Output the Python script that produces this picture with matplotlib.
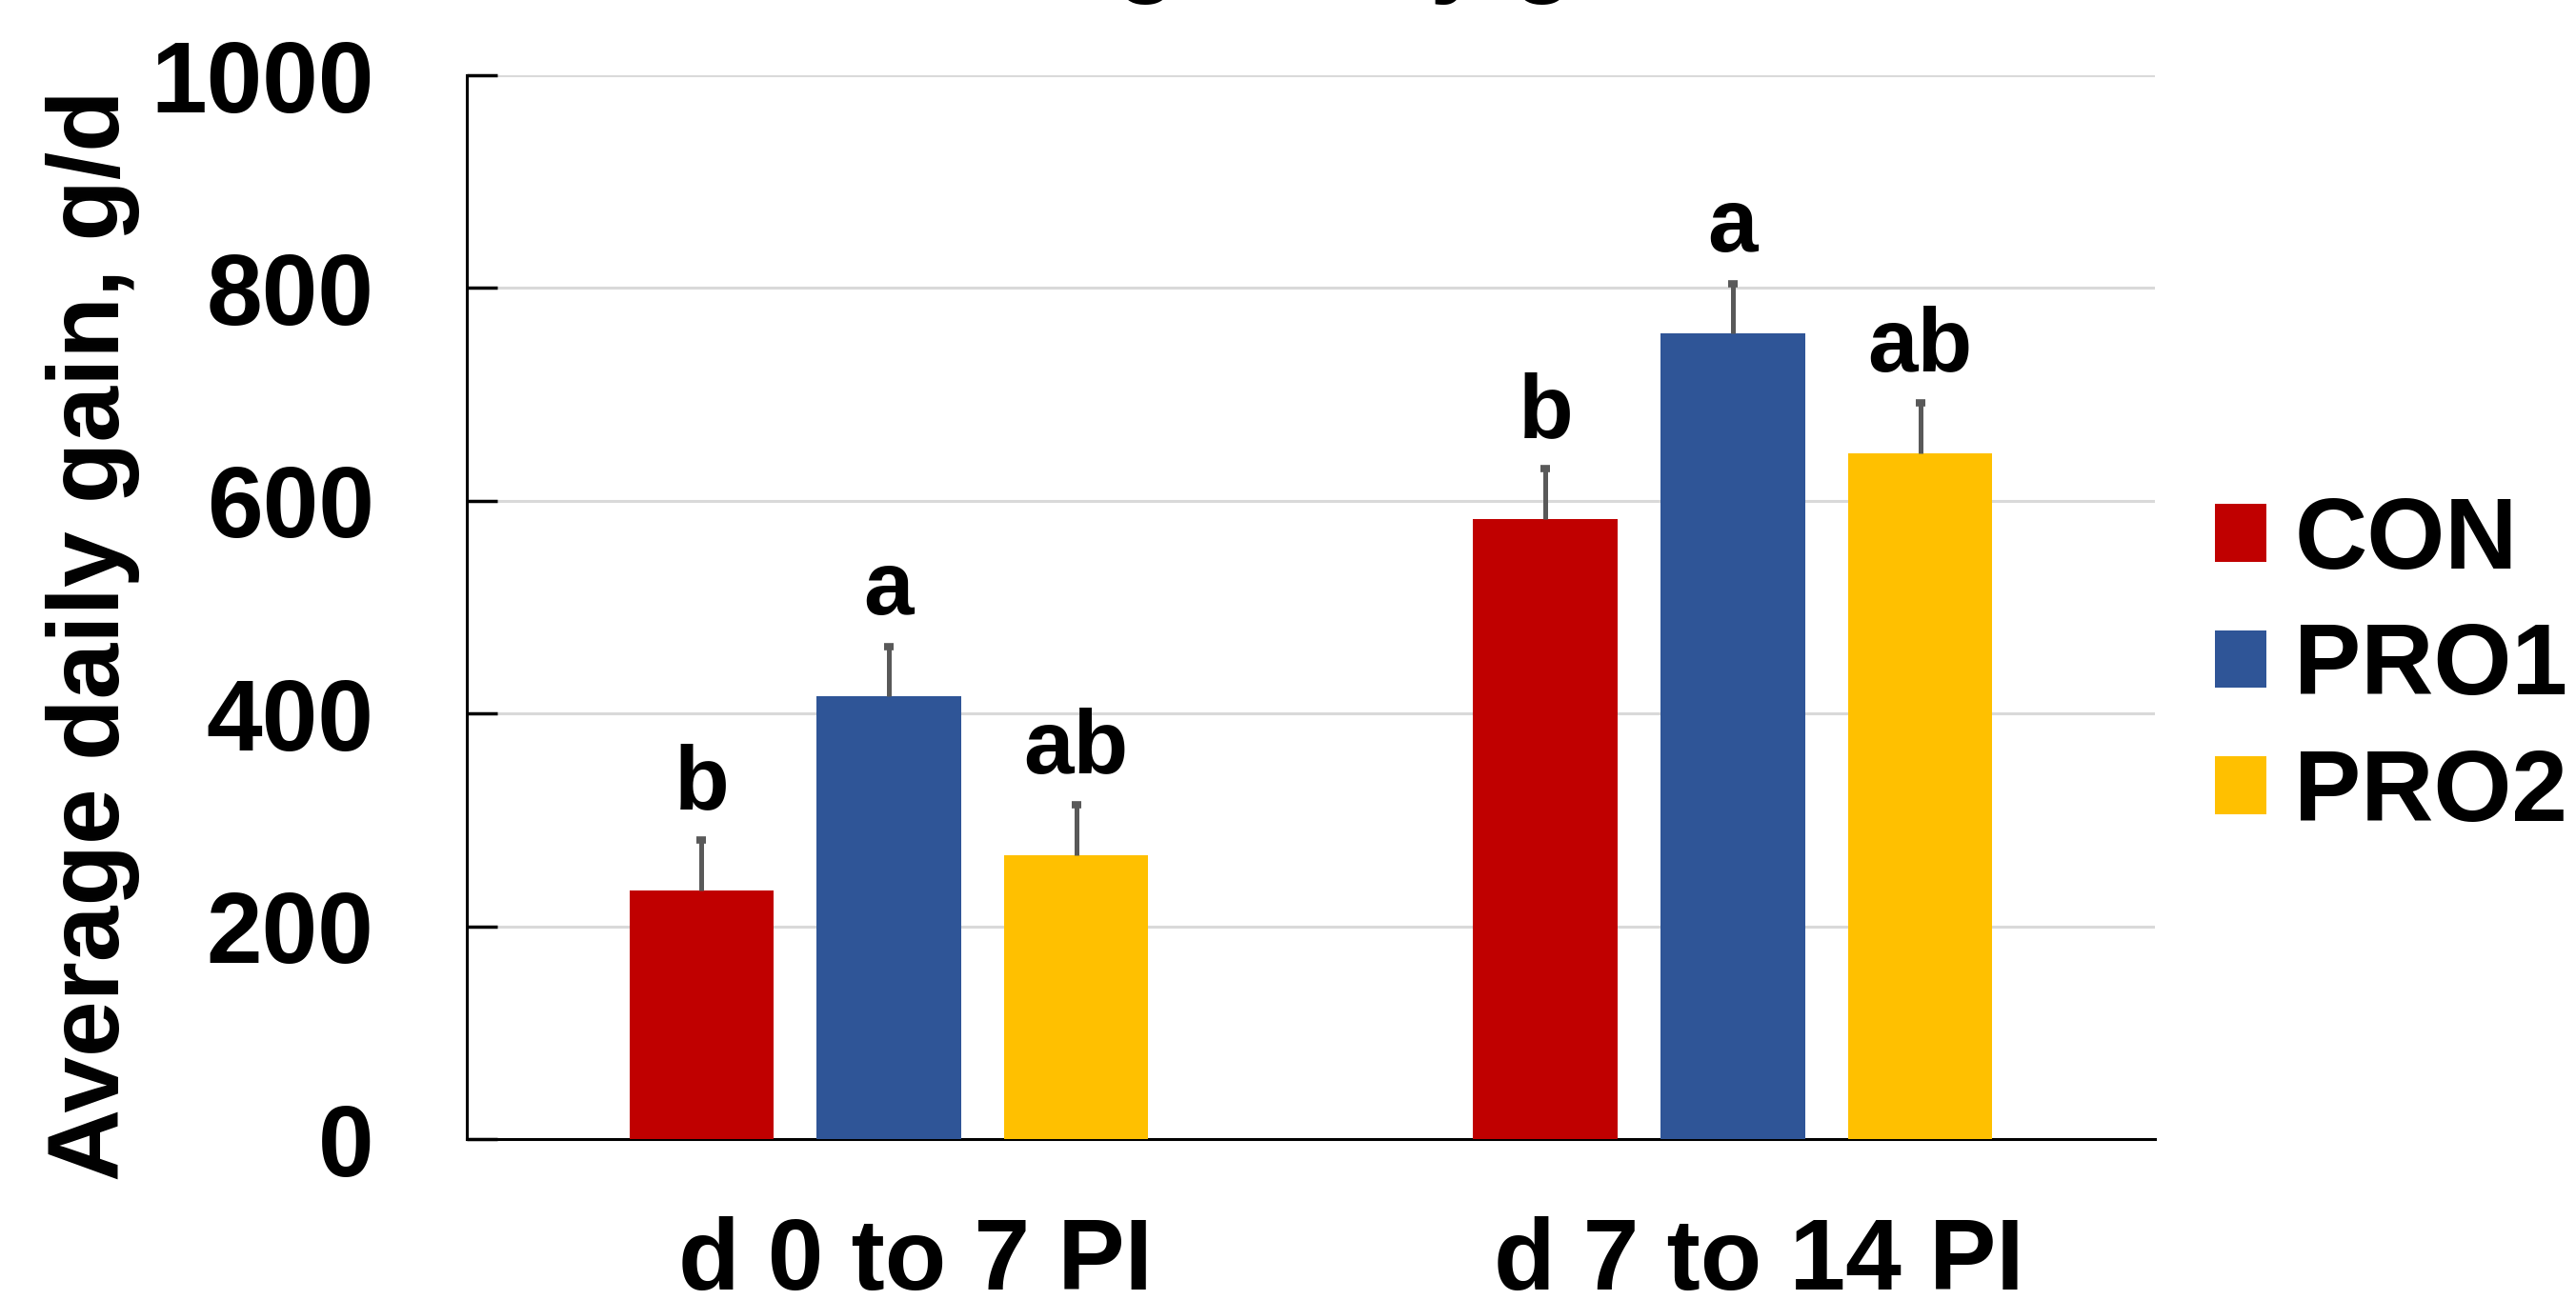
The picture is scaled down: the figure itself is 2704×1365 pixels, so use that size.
"""
Average daily gain bar chart
"""

# Imports
import numpy as np
import matplotlib
matplotlib.use("Agg")
import matplotlib.pyplot as plt
import matplotlib.transforms as mtransforms
from matplotlib.patches import Patch

# Main Vars
periods = ["d 0 to 7 PI", "d 7 to 14 PI"]
treatments = ["CON", "PRO1", "PRO2"]
colors = ["#C00000", "#2F5597", "#FFC000"]

# ADG means and SEM, g/d
adg_con = [234, 583]
adg_pro1 = [416, 757]
adg_pro2 = [267, 645]
sem_con = [47, 47]
sem_pro1 = [47, 47]
sem_pro2 = [47, 47]

# Mean separation letters
letters_con = ["b", "b"]
letters_pro1 = ["a", "a"]
letters_pro2 = ["ab", "ab"]

yticks = [0, 200, 400, 600, 800, 1000]

# Params
FONT = "Liberation Sans"
TICK_SIZE = 76
ERR_COLOR = "#595959"
plt.rcParams["font.family"] = [FONT, "DejaVu Sans"]
plt.rcParams["font.weight"] = "bold"

# Plot
fig = plt.figure(figsize=(27.04, 13.65), dpi=100)
ax = fig.add_axes([0.1812, 0.1238, 0.6553, 0.8183])

x = np.arange(len(periods))
width = 0.171
step = 0.222

means = [adg_con, adg_pro1, adg_pro2]
sems = [sem_con, sem_pro1, sem_pro2]
letters = [letters_con, letters_pro1, letters_pro2]

for i in range(len(treatments)):
    xpos = x + (i - 1) * step
    m = np.array(means[i])
    s = np.array(sems[i])
    ax.bar(xpos, m, width=width, color=colors[i], zorder=3)
    # upper error bar only, with a small square cap
    ax.vlines(xpos, m, m + s, color=ERR_COLOR, linewidth=3.6, zorder=4)
    ax.plot(xpos, m + s, linestyle="none", marker="_", color=ERR_COLOR,
            markersize=6.7, markeredgewidth=5.5, zorder=4)
    for j in range(len(periods)):
        ax.text(xpos[j], m[j] + s[j] + 30, letters[i][j],
                ha="center", va="baseline", fontsize=68, fontweight="bold")

ax.set_xlim(-0.5, 1.5)
ax.set_ylim(0, 1000)
ax.set_yticks(yticks)
ax.set_xticks(x)
ax.set_xticklabels(periods)

ax.yaxis.grid(True, color="#D9D9D9", linewidth=2.2, zorder=0)
ax.set_axisbelow(True)
for side in ["top", "right"]:
    ax.spines[side].set_visible(False)
for side in ["left", "bottom"]:
    ax.spines[side].set_linewidth(2.2)
    ax.spines[side].set_color("black")

ax.tick_params(axis="y", direction="in", length=23, width=2.5, pad=70,
               labelsize=TICK_SIZE)
ax.tick_params(axis="x", length=0, pad=58, labelsize=TICK_SIZE)

# nudge the category labels a little to the right
shift = mtransforms.ScaledTranslation(20 / 72, 0, fig.dpi_scale_trans)
for lbl in ax.get_xticklabels():
    lbl.set_transform(lbl.get_transform() + shift)

fig.text(0.036, 0.511, "Average daily gain, g/d", rotation=90,
         ha="center", va="center", fontsize=TICK_SIZE, fontweight="bold")

# Title sits just above the top edge
fig.text(0.497, 1 + 17 / 1365, "Average daily gain", ha="center",
         va="baseline", fontsize=75, fontweight="bold")

handles = [Patch(facecolor=c, edgecolor="none") for c in colors]
fig.legend(handles, treatments, loc="center left",
           bbox_to_anchor=(2325 / 2704, 1 - 702 / 1365), frameon=False,
           fontsize=TICK_SIZE, handlelength=0.51, handleheight=0.51,
           handletextpad=0.28, labelspacing=0.32, borderpad=0,
           borderaxespad=0)

fig.savefig("out.png", dpi=100)
